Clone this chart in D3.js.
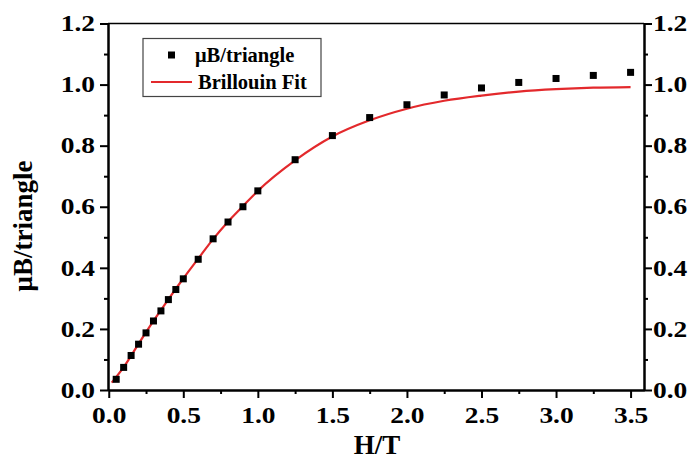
<!DOCTYPE html>
<html>
<head>
<meta charset="utf-8">
<script src="https://cdn.jsdelivr.net/npm/d3@7/dist/d3.min.js"></script>
<style>
html,body{margin:0;padding:0;background:#fff;}
svg{display:block;}
text{font-family:"Liberation Serif","Times New Roman",serif;font-weight:bold;fill:#000;}
</style>
</head>
<body>
<svg id="chart" width="692" height="461"></svg>
<script>
// ---- data ----
const fieldH = [0.05,0.1,0.15,0.2,0.25,0.3,0.35,0.4,0.45,0.5,0.6,0.7,0.8,0.9,1.0,1.25,1.5,1.75,2.0,2.25,2.5,2.75,3.0,3.25,3.5];
const momentM = [0.035,0.074,0.113,0.150,0.187,0.226,0.259,0.296,0.329,0.364,0.428,0.495,0.550,0.600,0.652,0.754,0.833,0.892,0.934,0.966,0.989,1.007,1.020,1.030,1.040];
const fitH = [0.02,0.1,0.2,0.3,0.4,0.5,0.6,0.7,0.8,0.9,1.0,1.25,1.5,1.75,2.0,2.25,2.5,2.75,3.0,3.25,3.5];
const fitM = [0.024,0.075,0.151,0.226,0.297,0.365,0.430,0.494,0.551,0.602,0.652,0.752,0.830,0.883,0.921,0.947,0.964,0.977,0.985,0.990,0.992];
const xMajorTicks = [0,0.5,1.0,1.5,2.0,2.5,3.0,3.5];
const xMinorTicks = [0.25,0.75,1.25,1.75,2.25,2.75,3.25];
const yMajorTicks = [0,0.2,0.4,0.6,0.8,1.0,1.2];
const yMinorTicks = [0.1,0.3,0.5,0.7,0.9,1.1];
const xTitle = "H/T";
const yTitle = "\u03bcB/triangle";
const legendLabels = ["\u03bcB/triangle","Brillouin Fit"];

// ---- layout ----
const L = 108, R = 644, T = 23.5, B = 390;
const red = "#e3292c";
const tickStretch = 1.22;
const tickFont = "22.5px";
const svg = d3.select("#chart");

const x = d3.scaleLinear().domain([-0.005, 3.59]).range([L, R]);
const y = d3.scaleLinear().domain([0, 1.2]).range([B, T]);
const fmt = d3.format(".1f");

// frame top line
svg.append("line").attr("x1", L).attr("x2", R).attr("y1", T).attr("y2", T)
  .attr("stroke", "#000").attr("stroke-width", 1.6);

function styleAxis(g){
  g.select(".domain").attr("stroke","#000").attr("stroke-width",2);
  g.selectAll(".tick line").attr("stroke","#000").attr("stroke-width",2);
}
function styleLabels(sel){
  sel.attr("transform", `scale(${tickStretch},1)`)
    .style("font-size", tickFont).style("font-family", "'Liberation Serif',serif").style("font-weight", "bold");
}

// bottom axis
const gxMinor = svg.append("g").attr("transform", `translate(0,${B})`)
  .call(d3.axisBottom(x).tickValues(xMinorTicks).tickSize(4).tickSizeOuter(0).tickFormat(""));
styleAxis(gxMinor);
const gx = svg.append("g").attr("transform", `translate(0,${B})`)
  .call(d3.axisBottom(x).tickValues(xMajorTicks).tickSize(8).tickSizeOuter(0).tickFormat(fmt));
styleAxis(gx);
styleLabels(gx.selectAll(".tick text").attr("y", 33).attr("dy", 0));

// left axis
const gyMinor = svg.append("g").attr("transform", `translate(${L},0)`)
  .call(d3.axisLeft(y).tickValues(yMinorTicks).tickSize(4).tickSizeOuter(0).tickFormat(""));
styleAxis(gyMinor);
const gy = svg.append("g").attr("transform", `translate(${L},0)`)
  .call(d3.axisLeft(y).tickValues(yMajorTicks).tickSize(8).tickSizeOuter(0).tickFormat(fmt));
styleAxis(gy);
styleLabels(gy.selectAll(".tick text").attr("x", -13 / tickStretch));

// right axis
const gyrMinor = svg.append("g").attr("transform", `translate(${R},0)`)
  .call(d3.axisRight(y).tickValues(yMinorTicks).tickSize(4).tickSizeOuter(0).tickFormat(""));
styleAxis(gyrMinor);
const gyr = svg.append("g").attr("transform", `translate(${R},0)`)
  .call(d3.axisRight(y).tickValues(yMajorTicks).tickSize(8).tickSizeOuter(0).tickFormat(fmt));
styleAxis(gyr);
styleLabels(gyr.selectAll(".tick text").attr("x", 9 / tickStretch));

// fit curve
const fitData = fitH.map((h, i) => [h, fitM[i]]);
svg.append("path").datum(fitData)
  .attr("d", d3.line().x(d => x(d[0])).y(d => y(d[1])).curve(d3.curveMonotoneX))
  .attr("fill", "none").attr("stroke", red).attr("stroke-width", 2.2);

// data squares
const sq = 7;
svg.append("g").selectAll("rect").data(fieldH.map((h, i) => [h, momentM[i]]))
  .join("rect")
  .attr("x", d => x(d[0]) - sq / 2).attr("y", d => y(d[1]) - sq / 2)
  .attr("width", sq).attr("height", sq).attr("fill", "#000");

// legend
const lg = svg.append("g");
lg.append("rect").attr("x", 143).attr("y", 38.5).attr("width", 178).attr("height", 58)
  .attr("fill", "#fff").attr("stroke", "#444").attr("stroke-width", 1.2);
lg.append("rect").attr("x", 171.5 - sq / 2).attr("y", 55 - sq / 2).attr("width", sq).attr("height", sq).attr("fill", "#000");
lg.append("line").attr("x1", 151).attr("x2", 192).attr("y1", 82).attr("y2", 82)
  .attr("stroke", red).attr("stroke-width", 2.2);
lg.append("text").attr("x", 195).attr("y", 62).style("font-size", "20.5px").text(legendLabels[0]);
lg.append("text").attr("x", 198).attr("y", 89).style("font-size", "20.5px").text(legendLabels[1]);

// axis titles
svg.append("text").attr("x", 377).attr("y", 454).attr("text-anchor", "middle")
  .style("font-size", "27px").text(xTitle);
svg.append("text").attr("transform", "translate(32,226) rotate(-90)").attr("text-anchor", "middle")
  .style("font-size", "27px").text(yTitle);
</script>
</body>
</html>
